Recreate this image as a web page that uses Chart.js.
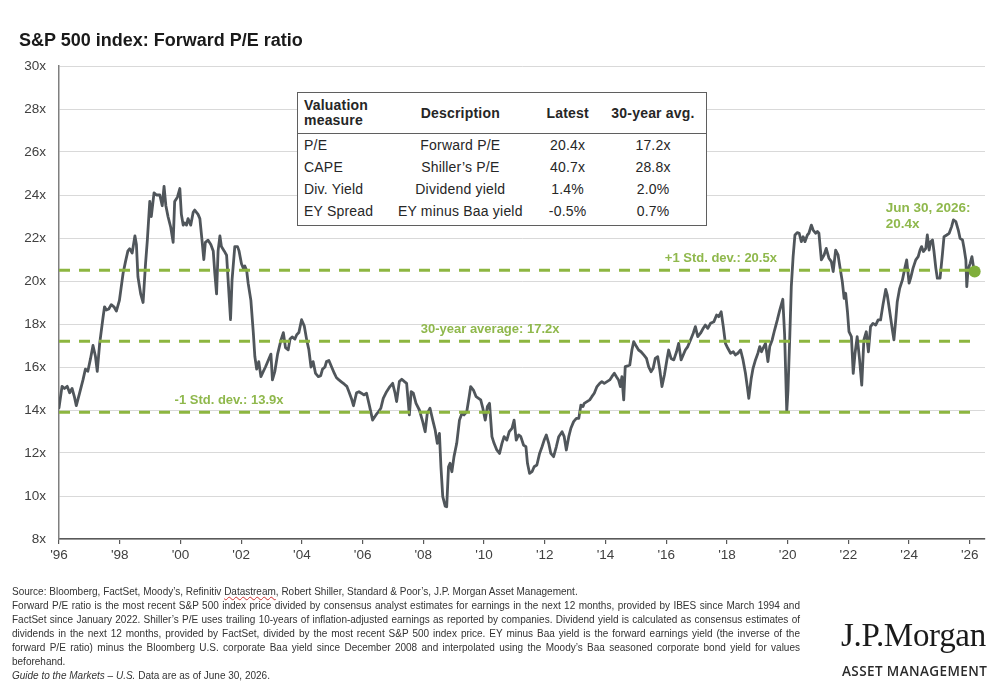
<!DOCTYPE html>
<html>
<head>
<meta charset="utf-8">
<title>S&amp;P 500 index: Forward P/E ratio</title>
<script src="https://cdn.jsdelivr.net/npm/chart.js@4.4.1/dist/chart.umd.min.js"></script>
<style>
  html, body { margin: 0; padding: 0; background: #fff; }
  body { width: 1000px; height: 695px; position: relative; overflow: hidden; font-family: 'Liberation Sans', Arial, sans-serif; color: #262626; }
  #chartBox { position: absolute; left: 0; top: 0; width: 1000px; height: 695px; }
  .title { position: absolute; left: 19px; top: 31px; font-size: 18px; line-height: 18px; font-weight: bold; color: #1a1a1a; white-space: nowrap; }
  .val-table { position: absolute; left: 297px; top: 92px; width: 410px; border: 1.5px solid #5f5f5f; border-collapse: collapse; background: #fff; font-size: 14px; color: #262626; letter-spacing: 0.2px; }
  .val-table th { font-weight: bold; text-align: center; vertical-align: middle; height: 40px; padding: 0; border-bottom: 1.5px solid #5f5f5f; line-height: 15px; }
  .val-table td { text-align: center; height: 22px; padding: 0; line-height: 22px; white-space: nowrap; }
  .val-table .c1 { text-align: left; padding-left: 6px; }
  .val-table tbody tr:last-child td { padding-bottom: 3px; }
  .footer { position: absolute; left: 12px; top: 585px; width: 788px; font-size: 10px; line-height: 14px; color: #333; }
  .footer div { white-space: nowrap; }
  .footer .j { text-align: justify; text-align-last: justify; white-space: normal; }
  .squiggle { text-decoration: underline wavy #d03030; text-decoration-thickness: 1px; }
  .logo1 { position: absolute; left: 841px; top: 619px; font-family: 'Liberation Serif', 'DejaVu Serif', serif; font-size: 33px; line-height: 33px; color: #1a1a1a; letter-spacing: -0.3px; white-space: nowrap; }
  .logo2 { position: absolute; left: 842px; top: 664px; font-family: 'Open Sans', sans-serif; font-weight: 600; font-size: 13.5px; line-height: 14px; color: #2a2a2a; letter-spacing: 0.4px; white-space: nowrap; }
</style>
</head>
<body>
<div id="chartBox"><canvas id="peChart" width="1000" height="695"></canvas></div>
<div class="title">S&amp;P 500 index: Forward P/E ratio</div>

<table class="val-table" id="valTable">
  <colgroup><col style="width:88px"><col style="width:150px"><col style="width:65px"><col style="width:107px"></colgroup>
  <thead><tr><th class="c1">Valuation<br>measure</th><th>Description</th><th>Latest</th><th>30-year avg.</th></tr></thead>
  <tbody></tbody>
</table>

<div class="footer">
  <div>Source: Bloomberg, FactSet, Moody’s, Refinitiv <span class="squiggle">Datastream</span>, Robert Shiller, Standard &amp; Poor’s, J.P. Morgan Asset Management.</div>
  <div class="j">Forward P/E ratio is the most recent S&amp;P 500 index price divided by consensus analyst estimates for earnings in the next 12 months, provided by IBES since March 1994 and</div>
  <div class="j">FactSet since January 2022. Shiller’s P/E uses trailing 10-years of inflation-adjusted earnings as reported by companies. Dividend yield is calculated as consensus estimates of</div>
  <div class="j">dividends in the next 12 months, provided by FactSet, divided by the most recent S&amp;P 500 index price. EY minus Baa yield is the forward earnings yield (the inverse of the</div>
  <div class="j">forward P/E ratio) minus the Bloomberg U.S. corporate Baa yield since December 2008 and interpolated using the Moody’s Baa seasoned corporate bond yield for values</div>
  <div>beforehand.</div>
  <div><i>Guide to the Markets – U.S.</i> Data are as of June 30, 2026.</div>
</div>

<div class="logo1">J.P.Morgan</div>
<div class="logo2">ASSET MANAGEMENT</div>

<script>
// Axis ticks
const tickYears = [1996, 1998, 2000, 2002, 2004, 2006, 2008, 2010, 2012, 2014, 2016, 2018, 2020, 2022, 2024, 2026];
const tickLabels = ["'96", "'98", "'00", "'02", "'04", "'06", "'08", "'10", "'12", "'14", "'16", "'18", "'20", "'22", "'24", "'26"];

// Reference lines
const refLevels = [20.5, 17.2, 13.9];
const refLabels = ['+1 Std. dev.: 20.5x', '30-year average: 17.2x', '-1 Std. dev.: 13.9x'];
const latestLabel = ['Jun 30, 2026:', '20.4x'];

// Valuation table
const measures = ['P/E', 'CAPE', 'Div. Yield', 'EY Spread'];
const descriptions = ['Forward P/E', 'Shiller’s P/E', 'Dividend yield', 'EY minus Baa yield'];
const latest = ['20.4x', '40.7x', '1.4%', '-0.5%'];
const avg30 = ['17.2x', '28.8x', '2.0%', '0.7%'];

// Forward P/E (decimal year, value)
const dates = [
  1996.00, 1996.10, 1996.18, 1996.27, 1996.35, 1996.43, 1996.51, 1996.57, 1996.68, 1996.79, 1996.87, 1996.95,
  1997.04, 1997.12, 1997.20, 1997.26, 1997.34, 1997.45, 1997.50, 1997.56, 1997.64, 1997.72, 1997.81, 1997.89, 1997.99,
  1998.11, 1998.19, 1998.27, 1998.33, 1998.41, 1998.50, 1998.55, 1998.60, 1998.69, 1998.77, 1998.85, 1998.91, 1998.99,
  1999.04, 1999.13, 1999.21, 1999.32, 1999.40, 1999.46, 1999.52, 1999.59, 1999.68, 1999.76, 1999.81, 1999.90, 1999.98,
  2000.03, 2000.09, 2000.14, 2000.20, 2000.25, 2000.34, 2000.42, 2000.47, 2000.58, 2000.64, 2000.71, 2000.77, 2000.82, 2000.91,
  2001.00, 2001.08, 2001.13, 2001.19, 2001.24, 2001.30, 2001.35, 2001.44, 2001.52, 2001.57, 2001.65, 2001.70, 2001.79, 2001.88, 2001.93,
  2002.01, 2002.07, 2002.12, 2002.18, 2002.23, 2002.32, 2002.40, 2002.45, 2002.51, 2002.58, 2002.65, 2002.73, 2002.80, 2002.89, 2002.98,
  2003.03, 2003.11, 2003.20, 2003.31, 2003.39, 2003.46, 2003.55, 2003.61, 2003.68, 2003.77, 2003.83, 2003.90, 2003.99,
  2004.08, 2004.16, 2004.23, 2004.30, 2004.37, 2004.45, 2004.54, 2004.62, 2004.68, 2004.76, 2004.81, 2004.89, 2004.98,
  2005.07, 2005.14, 2005.22, 2005.31, 2005.40, 2005.48, 2005.55, 2005.64, 2005.70, 2005.80, 2005.88,
  2005.96, 2006.04, 2006.13, 2006.22, 2006.33, 2006.44, 2006.52, 2006.60, 2006.68, 2006.79, 2006.90, 2006.99,
  2007.07, 2007.12, 2007.21, 2007.29, 2007.38, 2007.45, 2007.54, 2007.60, 2007.67, 2007.76, 2007.87, 2007.98,
  2008.06, 2008.13, 2008.22, 2008.31, 2008.39, 2008.46, 2008.53, 2008.58, 2008.64, 2008.72, 2008.77, 2008.83, 2008.88, 2008.94,
  2009.01, 2009.10, 2009.19, 2009.27, 2009.34, 2009.43, 2009.51, 2009.56, 2009.65, 2009.74, 2009.82, 2009.89, 2009.96,
  2010.04, 2010.11, 2010.18, 2010.26, 2010.33, 2010.42, 2010.51, 2010.59, 2010.66, 2010.75, 2010.83, 2010.92, 2010.99,
  2011.06, 2011.14, 2011.21, 2011.30, 2011.38, 2011.43, 2011.50, 2011.58, 2011.65, 2011.74, 2011.83, 2011.91, 2011.98,
  2012.05, 2012.13, 2012.20, 2012.29, 2012.38, 2012.46, 2012.57, 2012.64, 2012.71, 2012.79, 2012.86, 2012.95,
  2013.04, 2013.12, 2013.19, 2013.26, 2013.30, 2013.39, 2013.48, 2013.55, 2013.63, 2013.72, 2013.81, 2013.88, 2013.96,
  2014.05, 2014.14, 2014.21, 2014.29, 2014.36, 2014.43, 2014.49, 2014.54, 2014.60, 2014.65, 2014.73, 2014.80, 2014.87, 2014.93,
  2015.02, 2015.09, 2015.17, 2015.26, 2015.35, 2015.42, 2015.50, 2015.57, 2015.64, 2015.72, 2015.79, 2015.86, 2015.94,
  2016.03, 2016.08, 2016.16, 2016.25, 2016.34, 2016.41, 2016.49, 2016.56, 2016.63, 2016.71, 2016.80, 2016.89, 2016.96,
  2017.04, 2017.13, 2017.22, 2017.29, 2017.37, 2017.46, 2017.57, 2017.66, 2017.73, 2017.81, 2017.88, 2017.95,
  2018.03, 2018.12, 2018.21, 2018.28, 2018.36, 2018.45, 2018.53, 2018.61, 2018.67, 2018.72, 2018.80, 2018.86, 2018.94,
  2019.02, 2019.08, 2019.14, 2019.19, 2019.27, 2019.35, 2019.41, 2019.49, 2019.57, 2019.66, 2019.74, 2019.84, 2019.90, 2019.97,
  2020.01, 2020.07, 2020.12, 2020.18, 2020.24, 2020.32, 2020.38, 2020.45, 2020.51, 2020.57, 2020.65, 2020.70, 2020.78, 2020.84, 2020.92, 2020.98,
  2021.03, 2021.11, 2021.20, 2021.27, 2021.36, 2021.44, 2021.50, 2021.58, 2021.66, 2021.72, 2021.80, 2021.86, 2021.91, 2021.97,
  2022.02, 2022.10, 2022.16, 2022.22, 2022.29, 2022.37, 2022.44, 2022.51, 2022.59, 2022.66, 2022.73, 2022.81, 2022.90, 2022.98,
  2023.06, 2023.14, 2023.23, 2023.28, 2023.37, 2023.45, 2023.50, 2023.56, 2023.61, 2023.69, 2023.78, 2023.86, 2023.92,
  2024.00, 2024.05, 2024.13, 2024.22, 2024.30, 2024.36, 2024.41, 2024.47, 2024.55, 2024.60, 2024.66, 2024.71, 2024.77, 2024.82, 2024.88, 2024.93,
  2025.02, 2025.10, 2025.15, 2025.24, 2025.32, 2025.40, 2025.46, 2025.54, 2025.62, 2025.68, 2025.76, 2025.81, 2025.87, 2025.90, 2025.94,
  2026.01, 2026.07, 2026.12, 2026.16
];
const pe = [
  14.1, 15.1, 15.0, 15.1, 14.8, 15.0, 14.6, 14.2, 14.8, 15.4, 15.9, 15.8,
  16.4, 17.0, 16.5, 15.8, 17.1, 18.3, 18.8, 18.65, 18.7, 18.9, 18.8, 18.6, 19.1,
  20.35, 20.9, 21.4, 21.5, 21.3, 22.1, 21.7, 20.2, 19.4, 19.0, 20.8, 21.9, 23.7,
  23.0, 24.1, 24.0, 24.0, 23.5, 24.4, 23.5, 23.0, 22.5, 21.8, 23.7, 23.9, 24.3,
  23.1, 22.6, 22.7, 22.6, 22.9, 22.6, 23.2, 23.3, 23.1, 22.9, 21.9, 21.0, 21.8, 21.9,
  21.7, 21.4, 20.4, 19.4, 21.4, 22.1, 21.6, 21.4, 21.2, 20.05, 18.2, 20.05, 21.6, 21.6, 21.4,
  20.8, 20.6, 20.7, 20.5, 19.9, 19.1, 17.6, 16.5, 15.9, 16.25, 15.55, 15.8, 16.0, 16.3, 16.6,
  15.4, 15.8, 16.6, 17.25, 17.6, 16.9, 16.8, 17.3, 17.4, 17.3, 17.5, 17.6, 18.2,
  17.9, 17.25, 16.8, 16.0, 16.25, 15.7, 15.55, 15.6, 15.9, 16.0, 16.25, 16.3, 16.0,
  15.7, 15.5, 15.4, 15.3, 15.2, 15.1, 14.85, 14.5, 14.2, 14.8, 14.85,
  14.78, 14.70, 14.78, 14.23, 13.53, 13.77, 13.92, 14.08, 14.54, 14.85, 15.09, 15.24,
  14.78, 14.39, 15.32, 15.43, 15.32, 15.24, 13.77, 14.85, 14.78, 14.31, 14.0, 13.46,
  12.99, 13.84, 14.08, 13.53, 13.07, 12.45, 12.91, 11.36, 9.97, 9.53, 9.50, 11.36, 11.52, 11.13,
  11.83, 12.45, 13.53, 13.84, 13.77, 13.92, 14.62, 15.09, 14.93, 14.62, 14.54, 14.47, 14.08,
  13.53, 14.16, 14.31, 12.76, 12.45, 12.14, 11.98, 12.45, 12.76, 12.60, 12.99, 13.15, 13.53,
  12.60, 12.84, 12.76, 12.37, 12.29, 11.52, 11.05, 11.13, 11.36, 11.44, 11.98, 12.29, 12.60,
  12.84, 12.45, 11.98, 11.83, 12.29, 12.76, 12.99, 12.76, 12.14, 12.76, 13.15, 13.46,
  13.61, 13.61, 14.23, 14.16, 14.31, 14.39, 14.47, 14.62, 14.78, 15.09, 15.24, 15.32, 15.24,
  15.32, 15.40, 15.55, 15.71, 15.55, 15.40, 15.09, 15.55, 14.47, 16.02, 16.05, 16.09, 16.79, 17.18,
  16.95, 16.79, 16.71, 16.56, 16.40, 16.02, 15.78, 15.94, 16.40, 16.48, 15.86, 15.09, 15.63,
  16.40, 16.79, 16.40, 16.33, 16.71, 17.10, 16.33, 16.56, 16.79, 16.95, 17.26, 17.57, 17.88,
  17.41, 17.57, 17.80, 17.95, 17.80, 18.03, 18.11, 18.42, 18.34, 18.57, 17.88, 17.10,
  16.87, 16.64, 16.71, 16.56, 16.64, 16.79, 16.33, 15.71, 15.09, 14.54, 15.47, 15.94, 16.33,
  16.64, 16.95, 16.71, 16.87, 17.10, 16.25, 16.95, 17.26, 17.72, 18.19, 18.65, 19.15, 17.5, 13.92,
  14.9, 17.41, 19.74, 21.13, 22.14, 22.25, 22.22, 21.83, 22.06, 21.83, 22.14, 22.22, 22.60, 22.37, 22.22, 22.30,
  22.22, 20.98, 21.21, 21.52, 21.06, 20.90, 20.44, 21.44, 21.21, 20.67, 19.97, 19.19, 19.43, 18.57,
  17.64, 17.41, 15.70, 16.64, 17.41, 16.33, 15.16, 17.26, 17.64, 16.71, 17.88, 18.03, 17.95, 18.19,
  18.19, 18.90, 19.61, 19.36, 18.50, 17.72, 17.26, 18.19, 19.04, 19.66, 20.05, 20.60, 20.98,
  19.90, 20.13, 20.60, 20.98, 21.13, 21.44, 21.60, 21.37, 21.52, 22.14, 21.44, 21.83, 21.91, 21.37, 20.60, 20.13,
  20.13, 21.29, 22.06, 22.14, 22.22, 22.53, 22.84, 22.76, 22.37, 21.98, 21.91, 21.52, 20.98, 19.74, 20.51,
  20.82, 21.13, 20.67, 20.44
];

document.addEventListener('DOMContentLoaded', function() {
    // Fill valuation table
    const tbody = document.querySelector('#valTable tbody');
    measures.forEach((m, i) => {
        const row = tbody.insertRow();
        const c0 = row.insertCell(0);
        c0.textContent = m;
        c0.className = 'c1';
        row.insertCell(1).textContent = descriptions[i];
        row.insertCell(2).textContent = latest[i];
        row.insertCell(3).textContent = avg30[i];
    });

    const green = '#8db640';
    const greenText = '#8fb84c';
    const tickFont = { family: "'Liberation Sans Narrow', 'Liberation Sans', Arial, sans-serif", size: 13.5 };

    // Dashed reference lines, their labels and the end-point dot
    const refPlugin = {
        id: 'refLines',
        afterDatasetsDraw(chart) {
            const { ctx, scales: { x, y } } = chart;
            const lastX = x.getPixelForValue(dates[dates.length - 1]);
            const lastY = y.getPixelForValue(pe[pe.length - 1]);

            ctx.save();
            ctx.strokeStyle = green;
            ctx.lineWidth = 3;
            ctx.setLineDash([11, 9]);
            refLevels.forEach(v => {
                const py = y.getPixelForValue(v);
                ctx.beginPath();
                ctx.moveTo(x.left, py);
                ctx.lineTo(lastX - 4, py);
                ctx.stroke();
            });
            ctx.setLineDash([]);

            // labels above each line
            const labelYears = [2017.8, 2010.2, 2001.6];
            ctx.fillStyle = greenText;
            ctx.font = "bold 13px 'Liberation Sans', Arial, sans-serif";
            ctx.textAlign = 'center';
            ctx.textBaseline = 'middle';
            refLevels.forEach((v, i) => {
                ctx.fillText(refLabels[i], x.getPixelForValue(labelYears[i]), y.getPixelForValue(v) - 12);
            });

            // latest value call-out
            ctx.font = "bold 13.5px 'Liberation Sans', Arial, sans-serif";
            ctx.textAlign = 'left';
            const lx = x.getPixelForValue(2023.23);
            ctx.fillText(latestLabel[0], lx, lastY - 63);
            ctx.fillText(latestLabel[1], lx, lastY - 47);

            // end-point dot
            ctx.fillStyle = '#7fae3a';
            ctx.beginPath();
            ctx.arc(lastX, lastY, 6, 0, Math.PI * 2);
            ctx.fill();
            ctx.restore();
        }
    };

    const ctx = document.getElementById('peChart').getContext('2d');
    new Chart(ctx, {
        type: 'line',
        data: {
            datasets: [{
                data: dates.map((d, i) => ({ x: d, y: pe[i] })),
                borderColor: '#50565b',
                borderWidth: 2.8,
                pointRadius: 0,
                tension: 0,
                borderJoinStyle: 'round',
                borderCapStyle: 'round'
            }]
        },
        options: {
            responsive: false,
            animation: false,
            devicePixelRatio: 1,
            layout: { padding: { left: 0, top: 66, right: 15, bottom: 126 } },
            plugins: { legend: { display: false }, tooltip: { enabled: false } },
            scales: {
                x: {
                    type: 'linear',
                    bounds: 'data',
                    min: 1996,
                    max: 2026.5,
                    afterBuildTicks: s => { s.ticks = tickYears.map(v => ({ value: v })); },
                    afterFit: s => { s.height = 30; },
                    ticks: {
                        callback: (v, i) => tickLabels[i],
                        color: '#404040',
                        font: tickFont,
                        padding: 3,
                        maxRotation: 0,
                        autoSkip: false
                    },
                    grid: { drawOnChartArea: false, drawTicks: true, tickLength: 5, color: '#595959', lineWidth: 1.2 },
                    border: { color: '#595959', width: 1.5 }
                },
                y: {
                    min: 8,
                    max: 30,
                    afterFit: s => { s.width = 59; },
                    ticks: {
                        stepSize: 2,
                        callback: v => v + 'x',
                        padding: 13,
                        color: '#404040',
                        font: tickFont
                    },
                    grid: { color: '#d9d9d9', lineWidth: 1, drawTicks: false },
                    border: { color: '#7f7f7f', width: 1.5 }
                }
            }
        },
        plugins: [refPlugin]
    });
});
</script>
</body>
</html>
